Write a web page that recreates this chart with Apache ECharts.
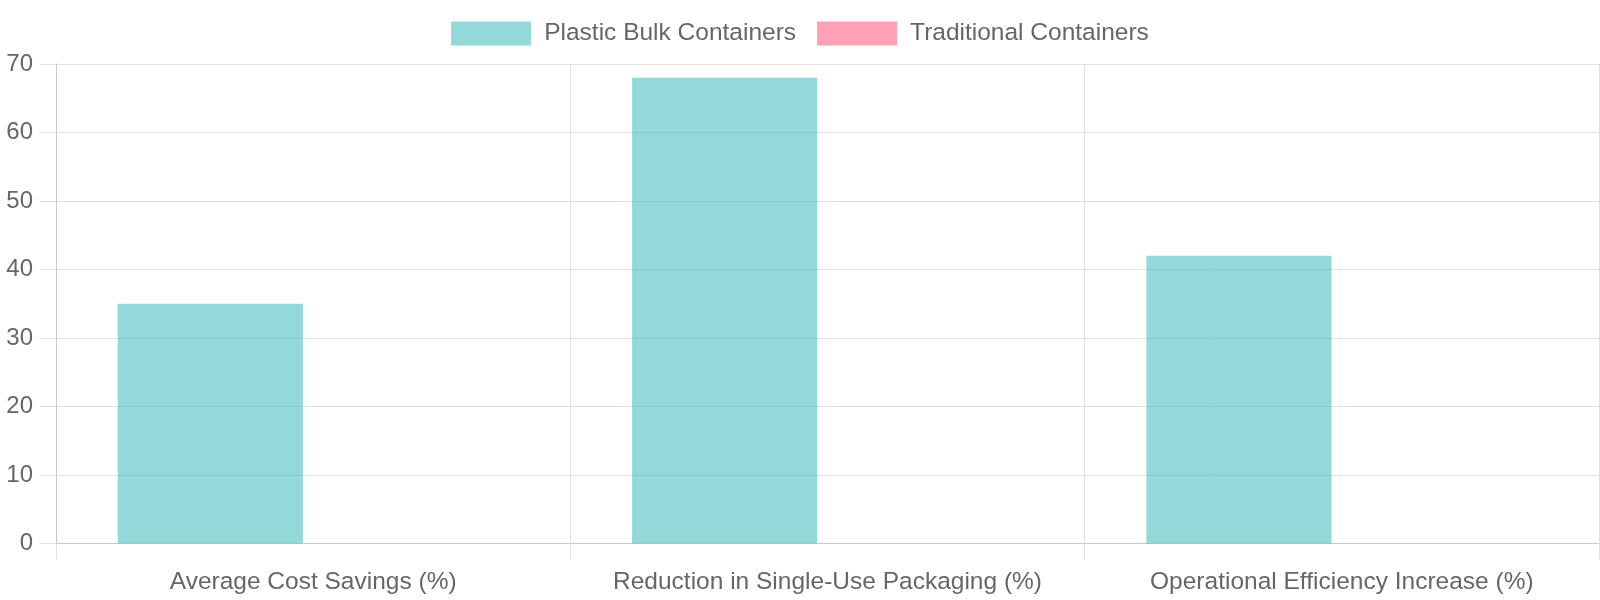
<!DOCTYPE html>
<html>
<head>
<meta charset="utf-8">
<script src="https://cdn.jsdelivr.net/npm/echarts@6/dist/echarts.min.js"></script>
<style>
html,body{margin:0;padding:0;background:#fff;}
#chart{width:1600px;height:600px;}
</style>
</head>
<body>
<div id="chart"></div>
<script>
const categories = ['Average Cost Savings (%)', 'Reduction in Single-Use Packaging (%)', 'Operational Efficiency Increase (%)'];
const seriesNames = ['Plastic Bulk Containers', 'Traditional Containers'];
const plasticValues = [35, 68, 42];
const traditionalValues = [null, null, null];
const yTicks = [0, 10, 20, 30, 40, 50, 60, 70];

const FONT = '"Liberation Sans", Arial, Helvetica, sans-serif';
const chart = echarts.init(document.getElementById('chart'), null, {renderer: 'canvas'});
chart.setOption({
  animation: false,
  backgroundColor: '#ffffff',
  legend: {
    top: 16,
    left: 'center',
    itemWidth: 80,
    itemHeight: 24,
    itemGap: 21,
    icon: 'rect',
    textStyle: {fontFamily: FONT, fontSize: 24.5, color: '#666666', padding: [0, 0, 0, 8]},
    data: seriesNames
  },
  grid: {left: 56, right: 1, top: 64, bottom: 56.5, containLabel: false},
  xAxis: {
    type: 'category',
    data: categories,
    boundaryGap: true,
    axisLine: {show: true, lineStyle: {color: '#c8c8c8', width: 1}},
    axisTick: {show: true, interval: 0, length: 16, lineStyle: {color: '#e0e0e0'}},
    splitLine: {show: true, interval: 0, lineStyle: {color: '#e0e0e0', width: 1}},
    axisLabel: {interval: 0, fontFamily: FONT, fontSize: 24.5, color: '#666666', margin: 26}
  },
  yAxis: {
    type: 'value',
    min: yTicks[0],
    max: yTicks[yTicks.length - 1],
    interval: 10,
    axisLine: {show: true, lineStyle: {color: '#c8c8c8', width: 1}},
    axisTick: {show: true, length: 16, lineStyle: {color: '#e0e0e0'}},
    splitLine: {show: true, lineStyle: {color: '#e0e0e0', width: 1}},
    axisLabel: {fontFamily: FONT, fontSize: 24, color: '#666666', margin: 23}
  },
  series: [
    {
      name: seriesNames[0],
      type: 'bar',
      data: plasticValues,
      barCategoryGap: '24%',
      barGap: '11.1%',
      itemStyle: {color: 'rgba(75,192,192,0.6)'}
    },
    {
      name: seriesNames[1],
      type: 'bar',
      data: traditionalValues,
      itemStyle: {color: 'rgba(255,99,132,0.6)'}
    }
  ]
});
</script>
</body>
</html>
